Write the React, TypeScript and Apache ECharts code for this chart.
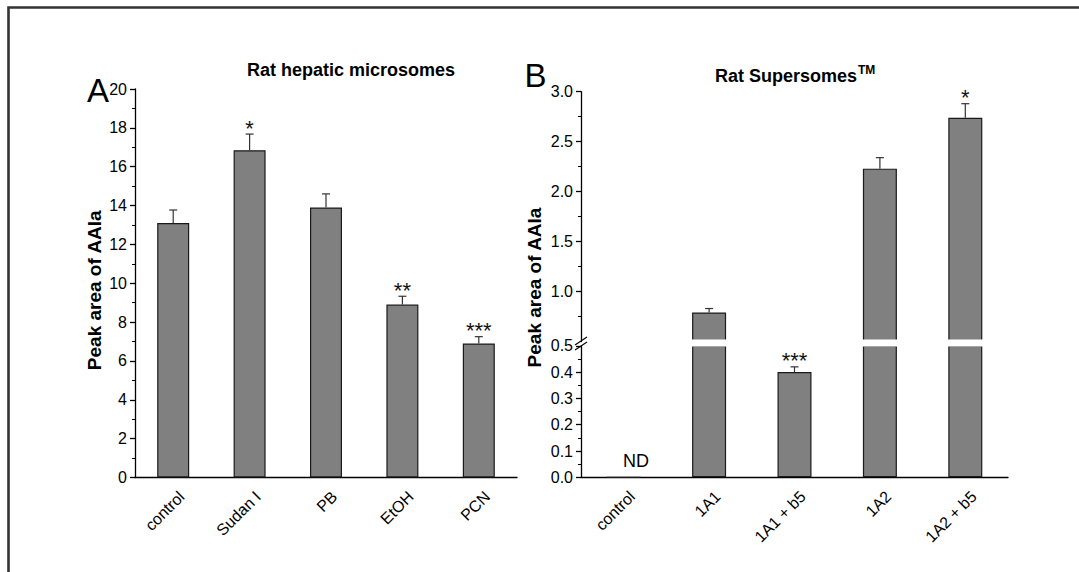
import React, { useEffect, useRef } from "react";
import * as echarts from "echarts";

const FONT = "'Liberation Sans', Arial, Helvetica, sans-serif";

// Panel A: rat hepatic microsomes
const catsA = ["control", "Sudan I", "PB", "EtOH", "PCN"];
const valsA = [13.1, 16.85, 13.9, 8.9, 6.9];
const errA = [0.67, 0.83, 0.7, 0.43, 0.35];
const sigA = ["", "*", "", "**", "***"];

// Panel B: rat Supersomes (ND = not detected)
const catsB = ["control", "1A1", "1A1 + b5", "1A2", "1A2 + b5"];
const valsB = [0, 0.79, 0.4, 2.23, 2.74];
const errB = [0, 0.04, 0.02, 0.11, 0.14];
const sigB = ["", "", "***", "", "*"];

const breakValue = 0.5;
const upperLabels = [1.0, 1.5, 2.0, 2.5, 3.0];

const axisLineStyle = { color: "#000", width: 1.3 };
const TICK_FONT = 16;

function yAxisBase(gridIndex: number, min: number, max: number, interval: number) {
  return {
    type: "value",
    gridIndex,
    min,
    max,
    interval,
    axisLine: { show: true, lineStyle: axisLineStyle },
    axisTick: { show: true, inside: false, length: 5, lineStyle: axisLineStyle },
    minorTick: { show: true, splitNumber: 2, length: 3, lineStyle: { color: "#000", width: 1 } },
    splitLine: { show: false },
    axisLabel: { fontSize: TICK_FONT, color: "#000", margin: 8, fontFamily: FONT },
  };
}

function xAxisBase(gridIndex: number, data: string[], show = true) {
  return {
    type: "category",
    gridIndex,
    data,
    show,
    boundaryGap: true,
    axisLine: { show: true, lineStyle: axisLineStyle },
    axisTick: { show: false },
    axisLabel: {
      rotate: 45,
      interval: 0,
      fontSize: 16,
      color: "#000",
      fontFamily: FONT,
      margin: 8,
      verticalAlign: "top",
      padding: [4, 0, 0, 0],
    },
  };
}

function errRender(vals: number[], errs: number[], sigs: string[], test: (v: number) => boolean) {
  return (params: any, api: any) => {
    const i = params.dataIndex;
    const v = vals[i];
    const e = errs[i];
    if (!test(v) || !e) return null;
    const p0 = api.coord([i, v]);
    const p1 = api.coord([i, v + e]);
    const st = { stroke: "#333", lineWidth: 1.2 };
    const children: any[] = [
      { type: "line", shape: { x1: p0[0], y1: p0[1], x2: p1[0], y2: p1[1] }, style: st },
      { type: "line", shape: { x1: p1[0] - 4, y1: p1[1], x2: p1[0] + 4, y2: p1[1] }, style: st },
    ];
    if (sigs[i]) {
      children.push({
        type: "text",
        x: p1[0],
        y: p1[1] - 6,
        style: {
          text: sigs[i],
          fontSize: 22,
          fontFamily: FONT,
          fill: "#111",
          align: "center",
          verticalAlign: "middle",
        },
      });
    }
    return { type: "group", children };
  };
}

export default function App() {
  const ref = useRef<HTMLDivElement>(null);

  useEffect(() => {
    if (!ref.current) return;
    const chart = echarts.init(ref.current, undefined, { renderer: "svg" });

    const barStyle = { color: "#808080", borderColor: "#1a1a1a", borderWidth: 1.2 };
    const nameStyle = { fontSize: 19, fontWeight: "bold", color: "#000", fontFamily: FONT };

    chart.setOption({
      animation: false,
      backgroundColor: "#fff",
      textStyle: { fontFamily: FONT },
      grid: [
        { left: 135, top: 89, width: 382, height: 388.5 },
        { left: 581, top: 91.7, width: 427, height: 249.8 },
        { left: 581, top: 345.8, width: 427, height: 131.5 },
        { left: 581, top: 91.7, width: 427, height: 385.6 },
      ],
      xAxis: [
        xAxisBase(0, catsA),
        xAxisBase(1, catsB, false),
        xAxisBase(2, catsB),
        xAxisBase(3, catsB, false),
      ],
      yAxis: [
        {
          ...yAxisBase(0, 0, 20, 2),
          name: "Peak area of AAla",
          nameLocation: "middle",
          nameGap: 31,
          nameTextStyle: { ...nameStyle, padding: [0, 14, 0, 0] },
        },
        {
          ...yAxisBase(1, breakValue, 3, 0.5),
          axisTick: {
            show: true,
            inside: false,
            length: 5,
            lineStyle: axisLineStyle,
            customValues: upperLabels,
          },
          axisLabel: {
            fontSize: TICK_FONT,
            color: "#000",
            margin: 8,
            fontFamily: FONT,
            customValues: upperLabels,
            formatter: (v: number) => v.toFixed(1),
          },
        },
        {
          ...yAxisBase(2, 0, breakValue, 0.1),
          axisLabel: {
            fontSize: TICK_FONT,
            color: "#000",
            margin: 8,
            fontFamily: FONT,
            formatter: (v: number) => v.toFixed(1),
          },
        },
        {
          type: "value",
          gridIndex: 3,
          min: 0,
          max: 1,
          axisLine: { show: false },
          axisTick: { show: false },
          axisLabel: { show: false },
          splitLine: { show: false },
          name: "Peak area of AAla",
          nameLocation: "middle",
          nameGap: 37,
          nameTextStyle: { ...nameStyle, padding: [0, 6, 0, 0] },
        },
      ],
      series: [
        {
          type: "bar",
          xAxisIndex: 0,
          yAxisIndex: 0,
          data: valsA,
          barWidth: 32,
          itemStyle: barStyle,
          clip: true,
        },
        {
          type: "custom",
          xAxisIndex: 0,
          yAxisIndex: 0,
          data: valsA.map((v, i) => [i, v]),
          renderItem: errRender(valsA, errA, sigA, () => true),
          z: 5,
        },
        {
          type: "bar",
          xAxisIndex: 1,
          yAxisIndex: 1,
          data: valsB,
          barWidth: 34,
          itemStyle: barStyle,
          clip: true,
        },
        {
          type: "bar",
          xAxisIndex: 2,
          yAxisIndex: 2,
          data: valsB,
          barWidth: 34,
          itemStyle: barStyle,
          clip: true,
        },
        {
          type: "custom",
          xAxisIndex: 1,
          yAxisIndex: 1,
          data: valsB.map((v, i) => [i, v]),
          renderItem: errRender(valsB, errB, sigB, (v) => v > breakValue),
          z: 5,
        },
        {
          type: "custom",
          xAxisIndex: 2,
          yAxisIndex: 2,
          data: valsB.map((v, i) => [i, v]),
          renderItem: errRender(valsB, errB, sigB, (v) => v > 0 && v <= breakValue),
          z: 5,
        },
      ],
      graphic: [
        {
          type: "rect",
          shape: { x: 8.5, y: 7.5, width: 1200, height: 700 },
          style: { fill: "none", stroke: "#333", lineWidth: 2.6 },
          silent: true,
        },
        {
          type: "rect",
          shape: { x: 582, y: 339.5, width: 426, height: 7 },
          style: { fill: "#fff" },
          z: 100,
          silent: true,
        },
        {
          type: "line",
          shape: { x1: 575, y1: 345, x2: 587, y2: 337 },
          style: { stroke: "#000", lineWidth: 1.1 },
          z: 101,
        },
        {
          type: "line",
          shape: { x1: 575, y1: 350, x2: 587, y2: 342 },
          style: { stroke: "#000", lineWidth: 1.1 },
          z: 101,
        },
        {
          type: "text",
          x: 351,
          y: 69.5,
          style: { text: "Rat hepatic microsomes", fontSize: 18, fontWeight: "bold", fontFamily: FONT, fill: "#000", align: "center", verticalAlign: "middle" },
        },
        {
          type: "text",
          x: 857,
          y: 75.5,
          style: { text: "Rat Supersomes", fontSize: 18, fontWeight: "bold", fontFamily: FONT, fill: "#000", align: "right", verticalAlign: "middle" },
        },
        {
          type: "text",
          x: 858,
          y: 69.5,
          style: { text: "TM", fontSize: 12, fontWeight: "bold", fontFamily: FONT, fill: "#000", align: "left", verticalAlign: "middle" },
        },
        {
          type: "text",
          x: 87,
          y: 90.6,
          style: { text: "A", fontSize: 33, fontFamily: FONT, fill: "#000", align: "left", verticalAlign: "middle" },
        },
        {
          type: "text",
          x: 524.5,
          y: 75.6,
          style: { text: "B", fontSize: 33, fontFamily: FONT, fill: "#000", align: "left", verticalAlign: "middle" },
        },
        {
          type: "text",
          x: 636,
          y: 460.8,
          style: { text: "ND", fontSize: 18, fontFamily: FONT, fill: "#000", align: "center", verticalAlign: "middle" },
        },
      ],
    });

    return () => chart.dispose();
  }, []);

  return (
    <div
      ref={ref}
      style={{ position: "absolute", left: 0, top: 0, width: 1079, height: 572, overflow: "hidden" }}
    />
  );
}
